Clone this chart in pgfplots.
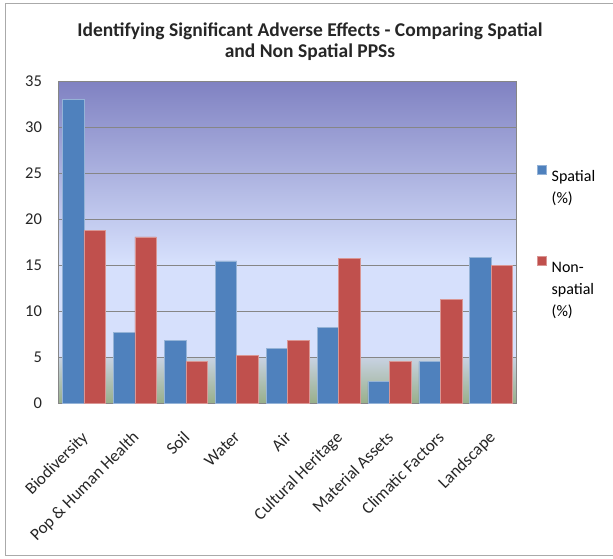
\documentclass[border=0pt]{standalone}
\usepackage{fontspec}
\setmainfont{Carlito}
\usepackage{pgfplots}
\pgfplotsset{compat=1.18}
\definecolor{spatial}{RGB}{79,129,189}
\definecolor{nonsp}{RGB}{192,80,77}
\definecolor{gridc}{RGB}{134,134,134}
\definecolor{frame}{RGB}{170,170,170}
\definecolor{c0}{RGB}{152,175,138}
\definecolor{c1}{RGB}{200,210,226}
\definecolor{c2}{RGB}{214,224,252}
\definecolor{c3}{RGB}{128,130,194}
\pgfdeclareverticalshading{bgshade}{100bp}{color(0bp)=(c0); color(25bp)=(c0); color(32.1bp)=(c1); color(32.3bp)=(c2); color(47bp)=(c2); color(75bp)=(c3); color(100bp)=(c3)}
\begin{document}
\begin{tikzpicture}[x=1pt,y=1pt]
\useasboundingbox (0,0) rectangle (613,559);
\draw[frame, line width=1.2pt] (613,555.5) -- (5.5,555.5) -- (5.5,3.5) -- (613,3.5);
\begin{axis}[
  at={(58.5pt,155.7pt)}, anchor=south west,
  scale only axis, width=458.2pt, height=321.6pt,
  axis background/.style={shade, shading=bgshade},
  ymin=0, ymax=35, ytick={0,5,...,35},
  xmin=-0.5, xmax=8.5, xtick={0,...,8},
  xticklabels={Biodiversity, Pop \& Human Health, Soil, Water, Air, Cultural Heritage, Material Assets, Climatic Factors, Landscape},
  ybar=0pt, bar width=21.5pt,
  ymajorgrids, grid style={gridc, line width=0.8pt},
  axis line style={gridc, line width=0.8pt},
  major tick length=0pt,
  tick label style={text=black!85},
  yticklabel style={font=\fontsize{16.5}{18}\selectfont, xshift=-13pt},
  /pgf/number format/assume math mode=true,
  xticklabel style={font=\fontsize{17}{19}\selectfont, rotate=45, anchor=north east, xshift=-18pt, yshift=-13pt},
  legend image code/.code={\fill[#1] (0pt,0.5pt) rectangle (9.3pt,9.5pt);},
  legend style={at={(1.0436,0.745)}, anchor=north west, draw=none, fill=none,
    font=\fontsize{16}{22}\selectfont, row sep=70pt, inner sep=0pt},
  legend cell align=left,
]
\addplot[fill=spatial, draw=spatial!60!white, line width=0.5pt] coordinates {
  (0,33.1) (1,7.7) (2,6.85) (3,15.5) (4,6.0) (5,8.27) (6,2.36) (7,4.53) (8,15.92)};
\addlegendentry{\begin{tabular}[t]{@{\hspace{3pt}}l@{}}Spatial\\(\%)\end{tabular}}
\addplot[fill=nonsp, draw=nonsp!60!white, line width=0.5pt] coordinates {
  (0,18.8) (1,18.1) (2,4.53) (3,5.22) (4,6.82) (5,15.78) (6,4.53) (7,11.32) (8,15.05)};
\addlegendentry{\begin{tabular}[t]{@{\hspace{3pt}}l@{}}Non-\\spatial\\(\%)\end{tabular}}
\end{axis}
\node[font=\bfseries\fontsize{19.5}{21}\selectfont, text=black!85, anchor=base] at (310,522.3) {Identifying Significant Adverse Effects - Comparing Spatial};
\node[font=\bfseries\fontsize{19.5}{21}\selectfont, text=black!85, anchor=base] at (310,501.3) {and Non Spatial PPSs};
\end{tikzpicture}
\end{document}
